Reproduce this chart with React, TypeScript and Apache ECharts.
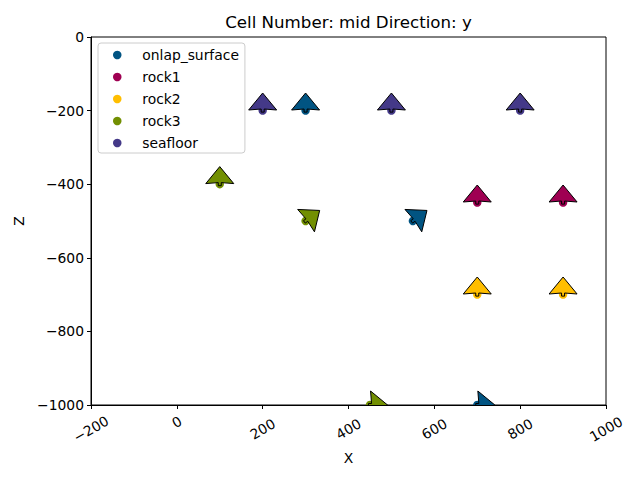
import React, { useEffect, useRef } from "react";
import * as echarts from "echarts";

const formations = ["onlap_surface", "rock1", "rock2", "rock3", "seafloor"];
const colors = ["#015482", "#9f0052", "#ffbe00", "#728f02", "#443988"];

// surface points (X, Z)
const onlapX = [300, 550, 700];
const onlapZ = [-200, -500, -1000];
const rock1X = [700, 900];
const rock1Z = [-450, -450];
const rock2X = [700, 900];
const rock2Z = [-700, -700];
const rock3X = [100, 300, 450];
const rock3Z = [-400, -500, -1000];
const seafloorX = [200, 500, 800];
const seafloorZ = [-200, -200, -200];

// orientation pole vectors (G_x, G_z) at the same points
const onlapGx = [0, 0.8, 1];
const onlapGz = [1, 0.6, 0];
const rock1Gx = [0, 0];
const rock1Gz = [1, 1];
const rock2Gx = [0, 0];
const rock2Gz = [1, 1];
const rock3Gx = [0, 0.8, 1];
const rock3Gz = [1, 0.6, 0];
const seafloorGx = [0, 0, 0];
const seafloorGz = [1, 1, 1];

const xTicks = [-200, 0, 200, 400, 600, 800, 1000];
const zTicks = [-1000, -800, -600, -400, -200, 0];

const FONT = "DejaVu Sans";

const fmt = (v: number) => (v < 0 ? "\u2212" + Math.abs(v) : String(v));

export default function App() {
  const ref = useRef<HTMLDivElement>(null);
  useEffect(() => {
    if (!ref.current) return;
    const chart = echarts.init(ref.current, null, { renderer: "svg" });
    const xs = [onlapX, rock1X, rock2X, rock3X, seafloorX];
    const zs = [onlapZ, rock1Z, rock2Z, rock3Z, seafloorZ];
    const gxs = [onlapGx, rock1Gx, rock2Gx, rock3Gx, seafloorGx];
    const gzs = [onlapGz, rock1Gz, rock2Gz, rock3Gz, seafloorGz];

    const series = formations.map((name, i) => ({
      name,
      type: "custom",
      clip: true,
      z: 3,
      itemStyle: { color: colors[i] },
      encode: { x: 0, y: 1 },
      data: xs[i].map((x, k) => [x, zs[i][k], gxs[i][k], gzs[i][k]]),
      renderItem: (params: any, api: any) => {
        const p = api.coord([api.value(0), api.value(1)]);
        const gx = api.value(2);
        const gz = api.value(3);
        const len = Math.hypot(gx, gz) || 1;
        const ux = gx / len;
        const uy = -gz / len;
        const nx = -uy;
        const ny = ux;
        const pt = (a: number, b: number) => [p[0] + a * ux + b * nx, p[1] + a * uy + b * ny];
        const points = [
          pt(-1.5, 1.5),
          pt(1.6, 1.5),
          pt(0.6, 14),
          pt(17.6, 0),
          pt(0.6, -14),
          pt(1.6, -1.5),
          pt(-1.5, -1.5),
        ];
        return {
          type: "group",
          children: [
            {
              type: "circle",
              shape: { cx: p[0], cy: p[1], r: 4.2 },
              style: { fill: colors[i] },
            },
            {
              type: "polygon",
              shape: { points },
              style: { fill: colors[i], stroke: "#000000", lineWidth: 1 },
            },
          ],
        };
      },
    }));

    chart.setOption({
      animation: false,
      textStyle: { fontFamily: FONT },
      grid: {
        left: 91,
        right: 34,
        top: 37,
        bottom: 75,
        show: true,
        borderColor: "#000000",
        borderWidth: 1,
        backgroundColor: "transparent",
      },
      graphic: [
        {
          type: "text",
          x: 348.5,
          y: 22,
          style: {
            text: "Cell Number: mid Direction: y",
            fontFamily: FONT,
            fontSize: 16.67,
            fill: "#000000",
            textAlign: "center",
            textVerticalAlign: "middle",
          },
        },
      ],
      legend: {
        data: formations,
        orient: "vertical",
        left: 98,
        top: 43,
        icon: "circle",
        itemWidth: 36,
        itemHeight: 8.5,
        itemGap: 8,
        padding: [5, 6, 3, 15],
        borderColor: "#cccccc",
        borderWidth: 1,
        borderRadius: 3,
        backgroundColor: "#ffffff",
        selectedMode: false,
        textStyle: { fontFamily: FONT, fontSize: 13.89, color: "#000000", lineHeight: 14, padding: [0, 0, 0, 2] },
      },
      xAxis: {
        type: "value",
        min: -200,
        max: 1000,
        interval: 200,
        name: "X",
        nameLocation: "middle",
        nameGap: 46,
        nameTextStyle: { fontFamily: FONT, fontSize: 13.89, color: "#000000" },
        axisLine: { show: true, onZero: false, lineStyle: { color: "#000000", width: 1 } },
        axisTick: { show: true, length: 4, lineStyle: { color: "#000000" } },
        splitLine: { show: false },
        axisLabel: {
          rotate: 30,
          align: "center",
          verticalAlign: "middle",
          margin: 24,
          fontFamily: FONT,
          fontSize: 13.89,
          color: "#000000",
          customValues: xTicks,
          formatter: (v: number) => (v === 0 ? "{z|0}" : fmt(v)),
          rich: { z: { fontFamily: FONT, fontSize: 13.89, color: "#000000", padding: [0, 0, 12, 7] } },
        },
      },
      yAxis: {
        type: "value",
        min: -1000,
        max: 0,
        interval: 200,
        name: "Z",
        nameLocation: "middle",
        nameGap: 59,
        nameTextStyle: { fontFamily: FONT, fontSize: 13.89, color: "#000000" },
        axisLine: { show: true, onZero: false, lineStyle: { color: "#000000", width: 1 } },
        axisTick: { show: true, length: 4, lineStyle: { color: "#000000" } },
        splitLine: { show: false },
        axisLabel: {
          margin: 7,
          fontFamily: FONT,
          fontSize: 13.89,
          color: "#000000",
          customValues: zTicks,
          formatter: fmt,
        },
      },
      series,
    } as any);
    return () => chart.dispose();
  }, []);
  return <div ref={ref} style={{ width: 640, height: 480, position: "absolute", left: 0, top: 0 }} />;
}
